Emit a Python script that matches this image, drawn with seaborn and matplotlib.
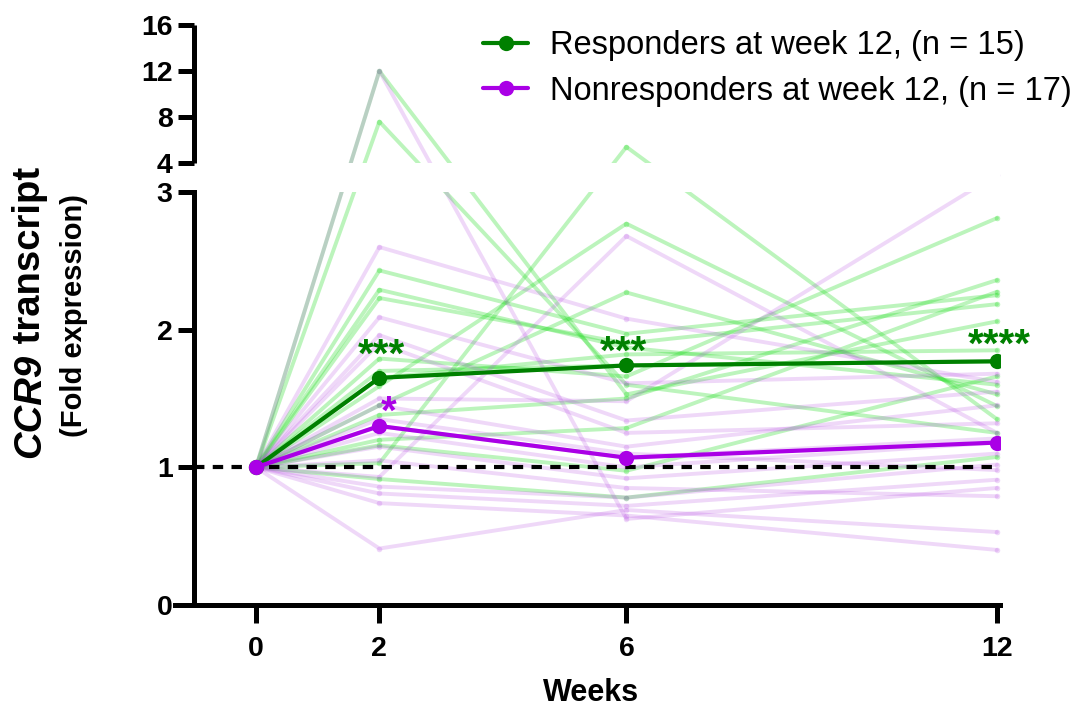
import numpy as np
import pandas as pd
import matplotlib
matplotlib.use("Agg")
import matplotlib.pyplot as plt
from matplotlib.lines import Line2D
import seaborn as sns

# ---- data ----
weeks = [0, 2, 6, 12]
week_labels = ["0", "2", "6", "12"]

# responders (n = 15), fold expression at weeks 2, 6 and 12 (week 0 = 1)
resp_w2 = [12.0, 7.6, 1.59, 1.03, 2.43, 2.29, 2.23, 1.79, 1.70, 1.65, 1.45, 1.38, 1.20, 1.16, 0.915]
resp_w6 = [1.53, 1.60, 2.77, 5.4, 1.97, 1.87, 1.90, 1.66, 1.74, 1.82, 2.27, 1.50, 1.285, 0.975, 0.78]
resp_w12 = [2.06, 1.25, 1.445, 1.35, 2.25, 1.60, 2.185, 2.81, 1.77, 1.85, 1.53, 2.36, 2.275, 1.66, 1.075]

# nonresponders (n = 17)
nonresp_w2 = [12.0, 2.60, 0.93, 2.09, 1.96, 1.90, 1.50, 1.45, 1.35, 1.30, 1.25, 1.15, 1.05, 0.86, 0.81, 0.74, 0.41]
nonresp_w6 = [0.625, 2.08, 2.68, 1.61, 1.34, 1.25, 1.48, 1.15, 1.10, 1.07, 1.00, 0.92, 0.85, 0.78, 0.72, 0.65, 0.69]
nonresp_w12 = [0.85, 1.62, 1.25, 1.68, 1.55, 1.32, 3.6, 1.45, 0.98, 1.21, 1.18, 1.10, 0.79, 1.02, 0.91, 0.40, 0.53]

# group summary line (median)
resp_med = [1.0, 1.65, 1.74, 1.77]
nonresp_med = [1.0, 1.30, 1.07, 1.18]

resp_stars = ["***", "***", "****"]     # at weeks 2, 6, 12
nonresp_stars = ["*", "", ""]

resp_label = "Responders at week 12, (n = 15)"
nonresp_label = "Nonresponders at week 12, (n = 17)"

yticks = [0, 1, 2, 3, 4, 8, 12, 16]

# ---- tidy frames ----
def long_frame(name, w2, w6, w12):
    rows = []
    for i, vals in enumerate(zip(w2, w6, w12)):
        for wk, v in zip(weeks, (1.0,) + vals):
            rows.append({"group": name, "subject": f"{name}{i}", "week": wk, "value": v})
    return pd.DataFrame(rows)

resp_df = long_frame("R", resp_w2, resp_w6, resp_w12)
nonresp_df = long_frame("N", nonresp_w2, nonresp_w6, nonresp_w12)
med_df = pd.DataFrame({"group": ["R"] * 4 + ["N"] * 4,
                       "week": weeks * 2,
                       "value": resp_med + nonresp_med})

green = "#008000"
purple = "#AA00E6"

sns.set_style("ticks")
plt.rcParams["font.family"] = ["Liberation Sans", "DejaVu Sans"]
for key in ("text.color", "axes.edgecolor", "axes.labelcolor", "xtick.color", "ytick.color"):
    plt.rcParams[key] = "black"

# broken y axis: 0-3 linear, 3-4 is the gap, 4-16 compressed
gap = 29 / 137.7
k = 11.5 / 137.7

def fwd(y):
    y = np.asarray(y, dtype=float)
    return np.where(y <= 3, y, np.where(y <= 4, 3 + (y - 3) * gap, 3 + gap + (y - 4) * k))

def inv(z):
    z = np.asarray(z, dtype=float)
    return np.where(z <= 3, z, np.where(z <= 3 + gap, 3 + (z - 3) / gap, 4 + (z - 3 - gap) / k))

fig = plt.figure(figsize=(10.88, 7.13), dpi=100)
ax = fig.add_axes([175 / 1088, 108 / 713, 825 / 1088, 580 / 713])
ax.set_yscale("function", functions=(fwd, inv))
yaxis_x = -1.0

# individual patients
sns.lineplot(data=resp_df, x="week", y="value", units="subject", estimator=None,
             color="#22DD22", alpha=0.3, lw=2.8, marker="o", markersize=4,
             markeredgewidth=0, legend=False, ax=ax)
sns.lineplot(data=nonresp_df, x="week", y="value", units="subject", estimator=None,
             color="#B040E0", alpha=0.2, lw=2.8, marker="o", markersize=4,
             markeredgewidth=0, legend=False, ax=ax)

# white band for the axis break
ax.axhspan(3, 4, color="white", lw=0, zorder=2.3)

ax.hlines(1, yaxis_x, weeks[-1], colors="black", linestyles=(0, (2.5, 2)), lw=3, zorder=3)

sns.lineplot(data=med_df, x="week", y="value", hue="group", estimator=None, errorbar=None,
             palette={"R": green, "N": purple}, lw=3, marker="o", markersize=11,
             markeredgewidth=0, legend=False, ax=ax, zorder=4)

# significance stars
star_offsets = [(1.5, 8), (-2, 1), (2, 3.5)]
for wk, txt, med, off in zip(weeks[1:], resp_stars, resp_med[1:], star_offsets):
    ax.annotate(txt, xy=(wk, med), xytext=off, textcoords="offset points",
                ha="center", va="baseline", color=green, fontsize=29, fontweight="bold", zorder=5)
for wk, txt, med in zip(weeks[1:], nonresp_stars, nonresp_med[1:]):
    if txt:
        ax.annotate(txt, xy=(wk, med), xytext=(7, 1.5), textcoords="offset points",
                    ha="center", va="baseline", color=purple, fontsize=29, fontweight="bold", zorder=5)

# axes styling
ax.set_xlim(-1.31, 12.05)
ax.set_ylim(0, 16)
ax.set_axisbelow(False)
sns.despine(ax=ax)
ax.spines["left"].set_position(("data", yaxis_x))
ax.spines["left"].set_bounds(0, 3)
for s in ("left", "bottom"):
    ax.spines[s].set_linewidth(3.6)
ax.vlines(yaxis_x, 4, 16, colors="black", lw=3.6, zorder=2.5, clip_on=False)

ax.set_yticks(yticks)
ax.set_yticklabels([str(t) for t in yticks], fontweight="bold")
ax.set_yticks([3, 4], minor=True)
ax.tick_params(axis="y", which="major", direction="out", length=11.5, width=3.6, pad=4, labelsize=20.5)
ax.tick_params(axis="y", which="minor", direction="in", length=10, width=3.6)
ax.set_xticks(weeks)
ax.set_xticklabels(week_labels, fontweight="bold")
ax.tick_params(axis="x", direction="out", length=13, width=3.6, pad=9, labelsize=20.5)

ax.set_xlabel("Weeks", fontsize=22, fontweight="bold")
ax.xaxis.set_label_coords((591 - 175) / 825, (605 - 693) / 580)
ax.xaxis.label.set_va("center")
ax.set_ylabel("")

# two-line y label, gene name in italics
t1 = fig.text(30 / 1088, 1 - 458 / 713, "CCR9", rotation=90, fontsize=27.5,
              fontweight="bold", fontstyle="italic", ha="center", va="bottom")
ax.annotate(" transcript", xy=(0.5, 1), xycoords=t1, rotation=90, ha="center", va="bottom",
            fontsize=27.5, fontweight="bold")
fig.text(74 / 1088, 1 - 315 / 713, "(Fold expression)", rotation=90, fontsize=21,
         fontweight="bold", ha="center", va="center")

handles = [Line2D([], [], color=green, lw=3, marker="o", markersize=11, markeredgewidth=0),
           Line2D([], [], color=purple, lw=3, marker="o", markersize=11, markeredgewidth=0)]
ax.legend(handles, [resp_label, nonresp_label], loc="upper left",
          bbox_to_anchor=(483 / 1088, 1 - 30 / 713), bbox_transform=fig.transFigure,
          frameon=False, borderpad=0, borderaxespad=0, handlelength=1.38,
          handletextpad=0.67, labelspacing=0.45, fontsize=23.5)

fig.savefig("out.png", dpi=100)
